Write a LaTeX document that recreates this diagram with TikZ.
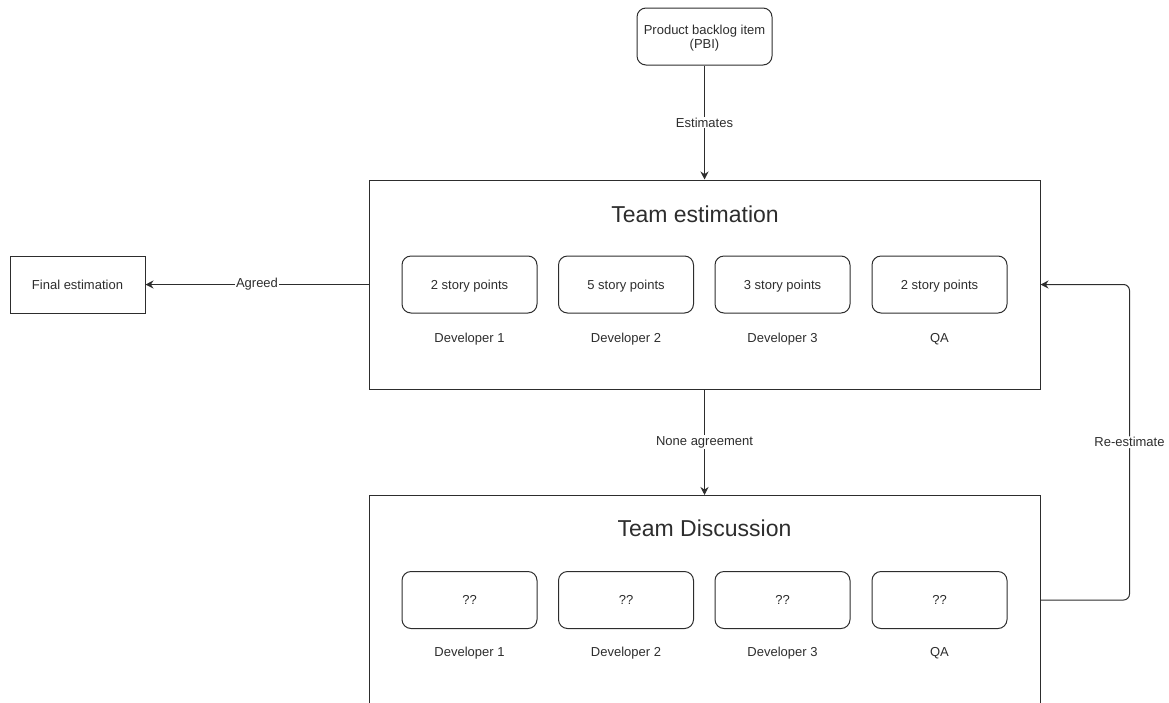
\documentclass[tikz,border=0pt]{standalone}
\usepackage{fontspec}
\setmainfont{Liberation Sans}
\usetikzlibrary{arrows.meta,positioning}
\definecolor{ink}{RGB}{45,45,45}

\begin{document}
\begin{tikzpicture}[x=1pt, y=-1pt, color=ink, >={Stealth[length=8pt,width=8pt]},
  frame/.style={rectangle, draw, line width=1pt, minimum width=671pt, minimum height=209pt, inner sep=0pt},
  vote/.style={rectangle, rounded corners=9pt, draw, line width=1pt, minimum width=135pt,
               minimum height=57pt, inner sep=0pt, align=center, text depth=0pt,
               font=\fontsize{13}{14}\selectfont},
  who/.style={text depth=0pt, font=\fontsize{13}{15}\selectfont},
  heading/.style={font=\fontsize{23}{27}\selectfont},
  lbl/.style={fill=white, inner sep=1pt, font=\fontsize{13}{15}\selectfont},
  flow/.style={->, line width=1pt}]
  \useasboundingbox (0,0) rectangle (1169,702);
  \node[vote] (pbi) at (704.5,36.5) {Product backlog item\\(PBI)};
  \node[vote, sharp corners] (final) at (77.5,284.5) {Final estimation};
  % team estimation
  \node[frame] (est) at (704.5,284.5) {};
  \node[heading] (estT) at (695,214) {Team estimation};
  \node[vote] (e1) at (469.5,284.5) {2 story points};
  \node[vote] (e2) at (626,284.5) {5 story points};
  \node[vote] (e3) at (782.5,284.5) {3 story points};
  \node[vote] (e4) at (939.5,284.5) {2 story points};
  \node[who] (e1w) at (469.5,338) {Developer 1};
  \node[who] (e2w) at (626,338) {Developer 2};
  \node[who] (e3w) at (782.5,338) {Developer 3};
  \node[who] (e4w) at (939.5,338) {QA};
  % team discussion
  \node[frame] (disc) at (704.5,600) {};
  \node[heading] (discT) at (704.5,528.5) {Team Discussion};
  \node[vote] (d1) at (469.5,600) {??};
  \node[vote] (d2) at (626,600) {??};
  \node[vote] (d3) at (782.5,600) {??};
  \node[vote] (d4) at (939.5,600) {??};
  \node[who] (d1w) at (469.5,652) {Developer 1};
  \node[who] (d2w) at (626,652) {Developer 2};
  \node[who] (d3w) at (782.5,652) {Developer 3};
  \node[who] (d4w) at (939.5,652) {QA};
  % connectors
  \draw[flow] (pbi) -- node[lbl]{Estimates} (est);
  \draw[flow] (est) -- node[lbl]{Agreed} (final);
  \draw[flow] (est) -- node[lbl]{None agreement} (disc);
  \draw[flow, rounded corners=6pt] (disc.east) -- ++(89,0) |- node[lbl, pos=0.25]{Re-estimate} (est.east);
\end{tikzpicture}
\end{document}
